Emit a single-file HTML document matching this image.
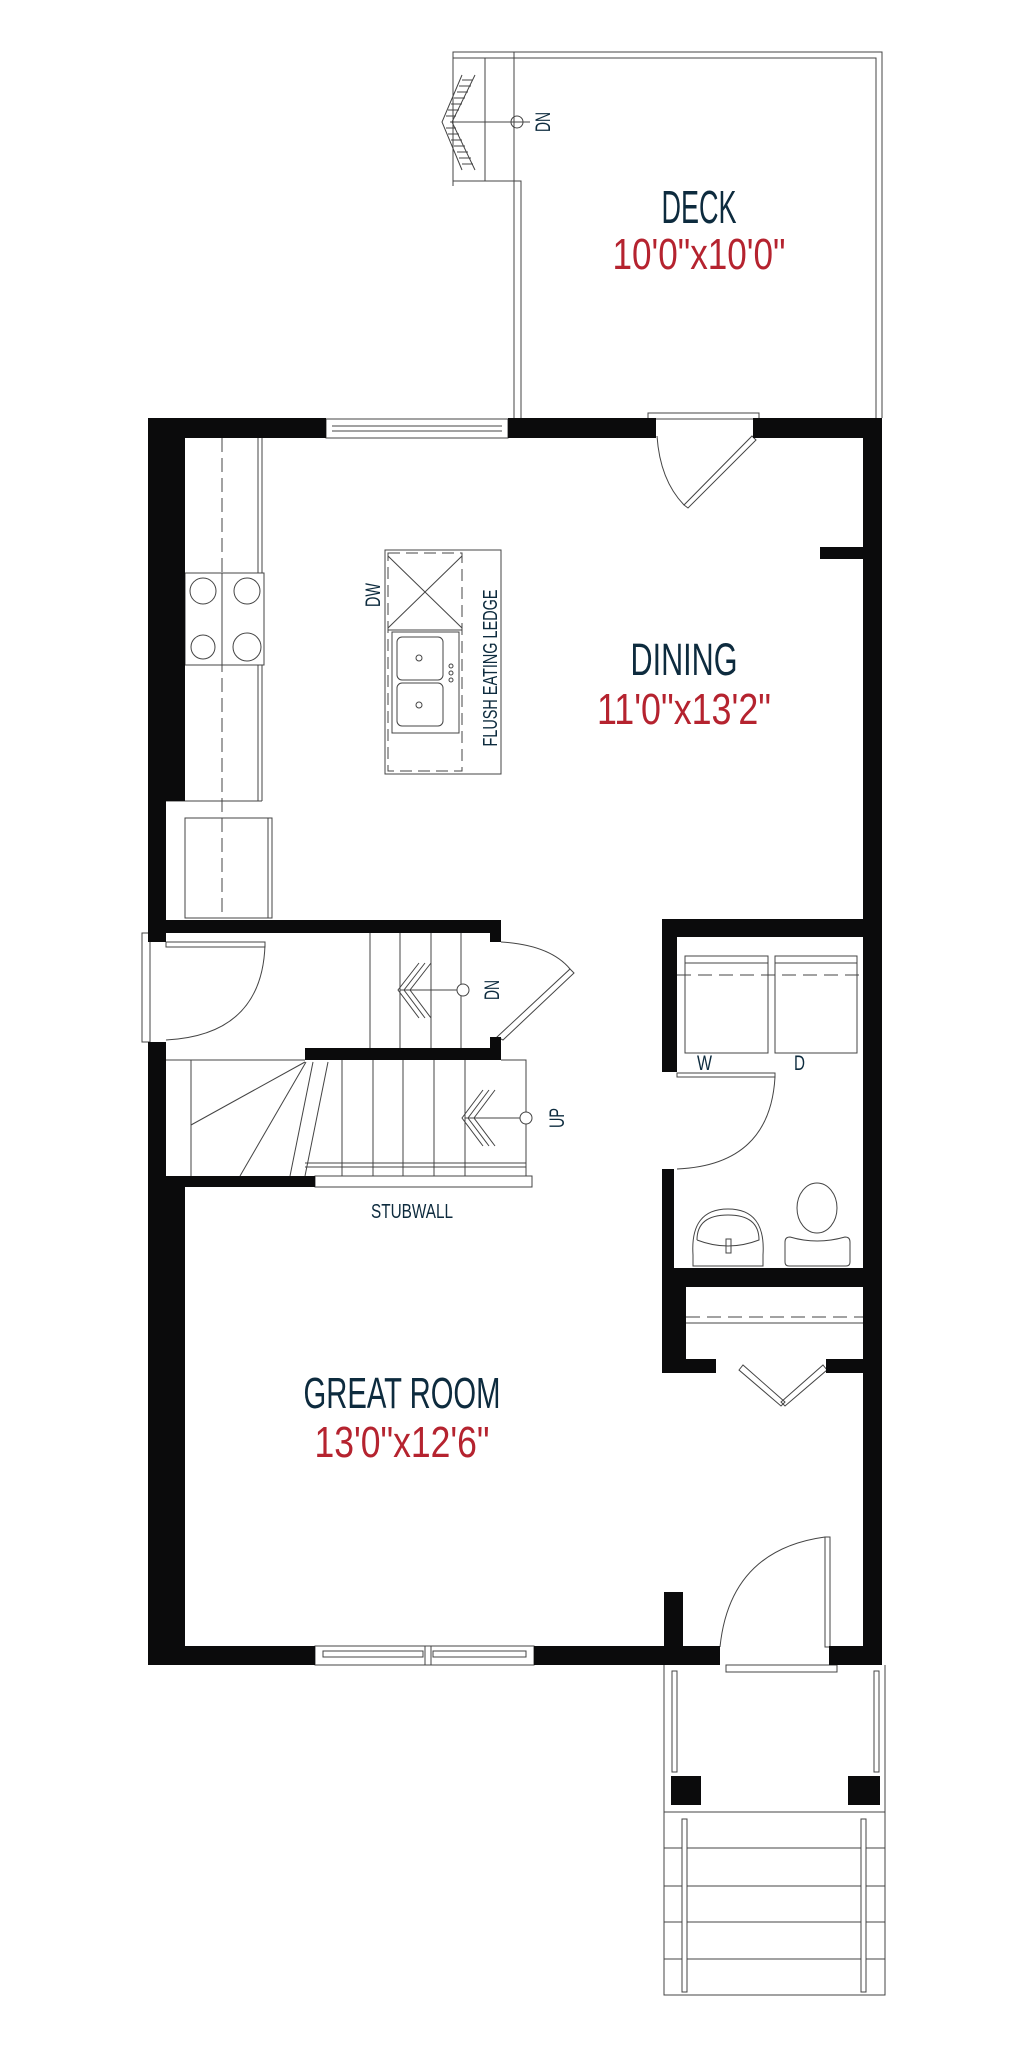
<!DOCTYPE html>
<html><head><meta charset="utf-8"><style>
html,body{margin:0;padding:0;background:#fff;width:1024px;height:2048px;overflow:hidden}
svg{display:block}
.t{font-family:"Liberation Sans",sans-serif;fill:#0d2b3e}
.r{font-family:"Liberation Sans",sans-serif;fill:#b5232f}
</style></head><body>
<svg width="1024" height="2048" viewBox="0 0 1024 2048" xmlns="http://www.w3.org/2000/svg">
<g fill="none" stroke="#444" stroke-width="1">
<!-- deck -->
<polyline points="453,186 453,52 882,52 882,418"/>
<polyline points="514,58 876,58 876,418"/>
<line x1="514" y1="52" x2="514" y2="418"/>
<polyline points="453,186 453,181 521,181 521,418"/>
<line x1="485" y1="58" x2="485" y2="181"/>
<line x1="453" y1="58" x2="514" y2="58"/>
<line x1="450" y1="122" x2="530" y2="122"/>
<circle cx="517" cy="122" r="6"/>
<polyline points="475,75 452,122 475,170"/>
<polyline points="462,75 442,122 462,170"/>
<path d="M462,80 H473 M459,86 H471 M457,92 H468 M454,98 H465 M451,104 H462 M448,110 H459 M446,116 H456 M446,128 H456 M448,134 H459 M451,140 H462 M454,146 H465 M457,152 H468 M459,158 H471 M462,164 H473"/>
<!-- window top -->
<rect x="326" y="419" width="182" height="19"/>
<line x1="332" y1="426" x2="502" y2="426"/><line x1="332" y1="431" x2="502" y2="431"/>
<!-- top door -->
<rect x="648" y="413" width="111" height="6"/>
<path d="M657,436 Q660,480 684,505"/>
<polygon points="752,436 756,440 688,508 684,505"/>
<!-- kitchen counter -->
<line x1="262" y1="438" x2="262" y2="801"/><line x1="258" y1="438" x2="258" y2="801"/>
<line x1="222" y1="438" x2="222" y2="918" stroke-dasharray="14,6"/>
<line x1="166" y1="801" x2="262" y2="801"/>
<rect x="185" y="573" width="79" height="92" fill="#fff"/>
<line x1="222" y1="573" x2="222" y2="665"/>
<circle cx="203" cy="591" r="13"/><circle cx="247" cy="591" r="13"/>
<circle cx="203" cy="647" r="12"/><circle cx="247" cy="647" r="14"/>
<rect x="185" y="818" width="87" height="100"/><line x1="268" y1="818" x2="268" y2="918"/>
<!-- island -->
<rect x="385" y="550" width="116" height="224"/>
<rect x="388" y="553" width="74" height="218" stroke-dasharray="12,6"/>
<line x1="388" y1="556" x2="462" y2="628"/><line x1="462" y1="556" x2="388" y2="628"/>
<line x1="388" y1="630" x2="462" y2="630"/>
<rect x="392" y="632" width="67" height="101"/>
<rect x="397" y="637" width="46" height="43" rx="5"/>
<rect x="397" y="683" width="46" height="43" rx="5"/>
<circle cx="419" cy="658" r="3"/><circle cx="419" cy="705" r="3"/>
<circle cx="451" cy="666" r="2"/><circle cx="451" cy="673" r="2"/><circle cx="451" cy="680" r="2"/>
<!-- left entry door -->
<rect x="142" y="933" width="8" height="109"/>
<rect x="166" y="942" width="99" height="5"/>
<path d="M265,945 Q262,1035 166,1040"/>
<!-- upper stair -->
<line x1="370" y1="933" x2="370" y2="1048"/><line x1="400" y1="933" x2="400" y2="1048"/>
<line x1="431" y1="933" x2="431" y2="1048"/><line x1="461" y1="933" x2="461" y2="1048"/>
<polyline points="431,963 410,990 431,1018"/><polyline points="425,963 404,990 425,1018"/><polyline points="419,963 398,990 419,1018"/>
<line x1="400" y1="990" x2="463" y2="990"/>
<circle cx="463" cy="990" r="6" fill="#fff"/>
<!-- DN stair door -->
<path d="M501,942 Q550,945 570,969"/>
<polygon points="570,969 574,973 503,1040 497,1037"/>
<!-- lower stair -->
<line x1="166" y1="1060" x2="305" y2="1060"/>
<line x1="191" y1="1060" x2="191" y2="1176"/>
<line x1="305" y1="1062" x2="191" y2="1125"/>
<line x1="306" y1="1062" x2="240" y2="1176"/>
<line x1="313" y1="1062" x2="290" y2="1176"/>
<line x1="328" y1="1062" x2="305" y2="1176"/>
<line x1="342" y1="1060" x2="342" y2="1176"/><line x1="373" y1="1060" x2="373" y2="1176"/>
<line x1="403" y1="1060" x2="403" y2="1176"/><line x1="434" y1="1060" x2="434" y2="1176"/>
<line x1="465" y1="1060" x2="465" y2="1176"/>
<polyline points="501,1060 526,1060 526,1176"/>
<line x1="305" y1="1163" x2="526" y2="1163"/><line x1="305" y1="1167" x2="526" y2="1167"/>
<polyline points="495,1090 474,1118 495,1146"/><polyline points="489,1090 468,1118 489,1146"/><polyline points="483,1090 462,1118 483,1146"/>
<line x1="465" y1="1118" x2="526" y2="1118"/>
<circle cx="526" cy="1118" r="6" fill="#fff"/>
<rect x="315" y="1176" width="217" height="11"/>
<!-- laundry -->
<rect x="685" y="956" width="83" height="97"/><rect x="775" y="956" width="82" height="97"/>
<line x1="685" y1="963" x2="768" y2="963"/><line x1="775" y1="963" x2="857" y2="963"/>
<line x1="677" y1="975" x2="867" y2="975" stroke-dasharray="14,7"/>
<rect x="677" y="1073" width="98" height="4"/>
<path d="M775,1077 Q770,1165 677,1169"/>
<!-- bath -->
<path d="M693,1255 Q690,1209 728,1209 Q766,1209 763,1255 L763,1266 L693,1266 Z"/>
<path d="M697,1240 Q697,1215 728,1215 Q759,1215 759,1240 Q728,1252 697,1240"/>
<rect x="726" y="1239" width="5" height="14"/>
<ellipse cx="817" cy="1208" rx="20" ry="25"/>
<path d="M785,1242 Q785,1237 790,1237 Q817,1245 845,1237 Q850,1237 850,1242 L850,1262 Q850,1266 846,1266 L789,1266 Q785,1266 785,1262 Z"/>
<!-- closet -->
<line x1="686" y1="1317" x2="863" y2="1317" stroke-dasharray="14,7"/>
<line x1="686" y1="1323" x2="863" y2="1323"/>
<polygon points="739,1370 743,1365 785,1402 781,1406"/>
<polygon points="827,1370 823,1365 781,1402 785,1406"/>
<!-- entry door -->
<rect x="825" y="1537" width="5" height="110"/>
<path d="M825,1537 Q730,1550 720,1647"/>
<rect x="726" y="1665" width="111" height="7"/>
<!-- GR window -->
<rect x="315" y="1646" width="219" height="19"/>
<rect x="323" y="1651" width="100" height="6"/><rect x="433" y="1651" width="93" height="6"/>
<line x1="425" y1="1646" x2="425" y2="1665"/><line x1="431" y1="1646" x2="431" y2="1665"/>
<!-- porch -->
<polyline points="664,1665 664,1995 885,1995 885,1665"/>
<rect x="672" y="1671" width="5" height="101"/><rect x="874" y="1671" width="5" height="101"/>
<line x1="664" y1="1812" x2="885" y2="1812"/>
<line x1="664" y1="1848" x2="885" y2="1848"/><line x1="664" y1="1886" x2="885" y2="1886"/>
<line x1="664" y1="1922" x2="885" y2="1922"/><line x1="664" y1="1959" x2="885" y2="1959"/>
<rect x="682" y="1819" width="5" height="173" fill="#fff"/><rect x="861" y="1819" width="5" height="173" fill="#fff"/>
</g>
<g fill="#0b0b0c">
<rect x="148" y="418" width="178" height="20"/>
<rect x="508" y="418" width="148" height="20"/>
<rect x="753" y="418" width="129" height="20"/>
<rect x="863" y="418" width="19" height="1247"/>
<rect x="820" y="547" width="45" height="12"/>
<rect x="148" y="418" width="37" height="383"/>
<rect x="148" y="801" width="18" height="141"/>
<rect x="148" y="920" width="353" height="13"/>
<rect x="490" y="920" width="11" height="22"/>
<rect x="148" y="1042" width="18" height="134"/>
<rect x="305" y="1048" width="196" height="12"/>
<rect x="490" y="1037" width="11" height="23"/>
<rect x="148" y="1176" width="167" height="11"/>
<rect x="148" y="1176" width="37" height="489"/>
<rect x="662" y="919" width="220" height="18"/>
<rect x="662" y="919" width="15" height="153"/>
<rect x="662" y="1169" width="12" height="118"/>
<rect x="662" y="1268" width="220" height="19"/>
<rect x="662" y="1268" width="24" height="105"/>
<rect x="662" y="1359" width="54" height="14"/>
<rect x="826" y="1359" width="40" height="14"/>
<rect x="148" y="1646" width="167" height="19"/>
<rect x="534" y="1646" width="186" height="19"/>
<rect x="664" y="1592" width="19" height="73"/>
<rect x="829" y="1646" width="53" height="19"/>
<rect x="671" y="1776" width="30" height="29"/>
<rect x="848" y="1776" width="32" height="29"/>
</g>
<text class="t" x="699" y="223" font-size="46" text-anchor="middle" textLength="75" lengthAdjust="spacingAndGlyphs">DECK</text>
<text class="r" x="699" y="269" font-size="44" text-anchor="middle" textLength="173" lengthAdjust="spacingAndGlyphs">10'0"x10'0"</text>
<text class="t" x="684" y="675" font-size="45" text-anchor="middle" textLength="107" lengthAdjust="spacingAndGlyphs">DINING</text>
<text class="r" x="684" y="724" font-size="44" text-anchor="middle" textLength="174" lengthAdjust="spacingAndGlyphs">11'0"x13'2"</text>
<text class="t" x="402" y="1408" font-size="44" text-anchor="middle" textLength="197" lengthAdjust="spacingAndGlyphs">GREAT ROOM</text>
<text class="r" x="402" y="1457" font-size="44" text-anchor="middle" textLength="175" lengthAdjust="spacingAndGlyphs">13'0"x12'6"</text>
<text class="t" x="412" y="1218" font-size="20" text-anchor="middle" textLength="82" lengthAdjust="spacingAndGlyphs">STUBWALL</text>
<text class="t" x="697" y="1070" font-size="21" textLength="15" lengthAdjust="spacingAndGlyphs">W</text>
<text class="t" x="794" y="1070" font-size="21" textLength="11" lengthAdjust="spacingAndGlyphs">D</text>
<text class="t" font-size="21" transform="translate(550,122) rotate(-90)" text-anchor="middle" textLength="20" lengthAdjust="spacingAndGlyphs">DN</text>
<text class="t" font-size="21" transform="translate(499,990) rotate(-90)" text-anchor="middle" textLength="20" lengthAdjust="spacingAndGlyphs">DN</text>
<text class="t" font-size="21" transform="translate(564,1118) rotate(-90)" text-anchor="middle" textLength="20" lengthAdjust="spacingAndGlyphs">UP</text>
<text class="t" font-size="21" transform="translate(380,595) rotate(-90)" text-anchor="middle" textLength="24" lengthAdjust="spacingAndGlyphs">DW</text>
<text class="t" font-size="20" transform="translate(497,668) rotate(-90)" text-anchor="middle" textLength="157" lengthAdjust="spacingAndGlyphs">FLUSH EATING LEDGE</text>
</svg>
</body></html>
